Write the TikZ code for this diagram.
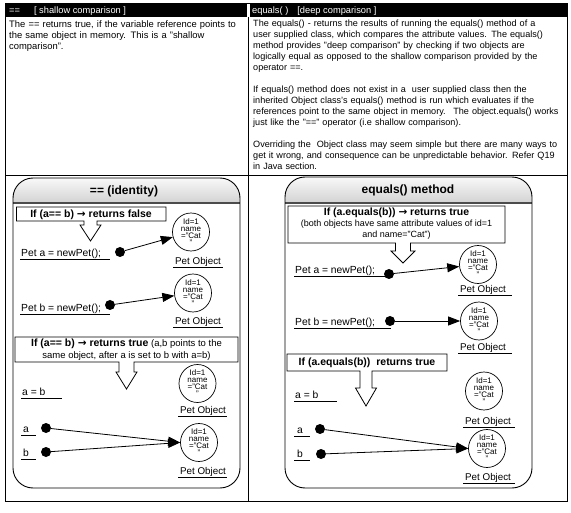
\documentclass[tikz,border=0pt]{standalone}
\usepackage{fontspec}
\setmainfont{Liberation Sans}
\newfontfamily\djv{DejaVu Sans}
\usetikzlibrary{arrows.meta,shapes.geometric}
\newcommand\jl[1]{\makebox[310pt][s]{#1}}
\newcommand\ra{{\djv\bfseries →}}
\newcommand\ul[3]{\draw[uline] ([xshift=#2pt,yshift=-2.5pt]#1.base west) -- ++(#3,0);}
\newcommand\callout[9]{\draw[cbox] (#1,#2) -- (#3,#2) -- (#3,#4) -- ({#5+#6},#4) -- ({#5+#6},#8) -- ({#5+#7},#8) -- (#5,#9) -- ({#5-#7},#8) -- ({#5-#6},#8) -- ({#5-#6},#4) -- (#1,#4) -- cycle;}
\begin{document}
\begin{tikzpicture}[x=1pt,y=-1pt,
  tline/.style={line width=0.8pt},
  hdr/.style={text=white, font=\fontsize{9.3}{11}\selectfont, inner sep=0pt, anchor=base west},
  body/.style={font=\fontsize{9.4}{11}\selectfont, inner sep=0pt, anchor=north west, align=left},
  rbody/.style={body, font=\fontsize{9.1}{11}\selectfont},
  ptitle/.style={font=\fontsize{12}{14}\selectfont\bfseries, inner sep=0pt},
  cbox/.style={draw=black, fill=white, line width=0.8pt, line join=miter},
  ctext/.style={font=\fontsize{10.5}{12}\selectfont\bfseries, inner sep=0pt},
  csmall/.style={font=\fontsize{9}{11}\selectfont, inner sep=0pt},
  lbl/.style={font=\fontsize{9.8}{11}\selectfont, inner sep=0pt, anchor=base west},
  code/.style={lbl, font=\fontsize{10.3}{11}\selectfont},
  uline/.style={line width=0.7pt},
  obj/.style={draw, ellipse, line width=0.7pt, minimum width=37pt, minimum height=38pt, inner sep=0pt, align=center, font=\fontsize{8}{7}\selectfont},
  dot/.style={circle, fill=black, minimum size=10pt, inner sep=0pt},
  conn/.style={line width=0.8pt, -{Triangle[length=12pt,width=9pt]}},
  panelline/.style={draw=black, line width=0.9pt, rounded corners=20pt},
  hline/.style={line width=1.2pt, gray!60!black},
]
\useasboundingbox (0,0) rectangle (571,513);
\fill[white] (0,0) rectangle (571,513);
% table
\fill[black] (5,3) rectangle (247,17);
\fill[black] (250,3) rectangle (567,17);
\draw[tline] (5,3) rectangle (567,501);
\draw[tline] (248,17) -- (248,501);
\draw[tline] (5,175) -- (567,175);
\node[hdr] (h1) at (9,13.5) {==\hspace{14pt}[ shallow comparison ]};
\node[hdr] (h2) at (252,13.5) {equals( )\hspace{9pt}[deep comparison ]};
\node[body, text width=236pt] (lt) at (9,20) {The == returns true, if the variable reference points to\\ the same object in memory. This is a "shallow\\ comparison".};
\node[rbody, text width=310pt] (rt) at (253,20) {\jl{The equals() - returns the results of running the equals() method of a}\\
\jl{user supplied class, which compares the attribute values. The equals()}\\
\jl{method provides "deep comparison" by checking if two objects are}\\
\jl{logically equal as opposed to the shallow comparison provided by the}\\
operator ==.\\[11pt]
\jl{If equals() method does not exist in a \ user supplied class then the}\\
\jl{inherited Object class's equals() method is run which evaluates if the}\\
\jl{references point to the same object in memory. \ The object.equals() works}\\
just like the "==" operator (i.e shallow comparison).\\[11pt]
\jl{Overriding the \ Object class may seem simple but there are many ways to}\\
\jl{get it wrong, and consequence can be unpredictable behavior. Refer Q19}\\
in Java section.};
% panels
\begin{scope}
\clip[rounded corners=20pt] (13,178) rectangle (240,488);
\shade[top color=gray!5, bottom color=gray!35] (13,178) rectangle (240,203);
\end{scope}
\draw[hline] (13,203) -- (240,203);
\draw[panelline] (13,178) rectangle (240,488);
\begin{scope}
\clip[rounded corners=20pt] (285,177) rectangle (532,488);
\shade[top color=gray!5, bottom color=gray!35] (285,177) rectangle (532,203);
\end{scope}
\draw[hline] (285,203) -- (532,203);
\draw[panelline] (285,177) rectangle (532,488);
\node[ptitle] (t1) at (124,191) {== (identity)};
\node[ptitle] (t2) at (408,190) {equals() method};
% callouts
\callout{16.5}{207}{166}{221}{90.5}{6.5}{10.5}{225}{241}
\callout{15}{337}{238}{362}{126.5}{7.5}{10.5}{372}{389}
\callout{288}{206}{505}{243}{403}{7.5}{12}{251}{263}
\callout{287}{354}{447}{371}{366}{6}{10.5}{388}{406}
\node[ctext] (c1t) at (91,214.5) {If (a== b) \ra\ returns false};
\node[font=\fontsize{9.5}{12}\selectfont, inner sep=0pt, align=center] (c2t) at (126.5,349.5) {{\fontsize{10.5}{12}\selectfont\bfseries If (a== b) \ra\ returns true} (a,b points to the\\ same object, after a is set to b with a=b)};
\node[ctext] (r1t) at (396.5,213) {If (a.equals(b)) \ra\ returns true};
\node[csmall, align=center] (r1s) at (396.5,229.5) {(both objects have same attribute values of id=1\\ and name="Cat")};
\node[ctext] (r2t) at (367,363) {If (a.equals(b))\ \ returns true};
% left panel objects
\node[obj] (lo1) at (191,232) {Id=1\\name\\="Cat\\"};
\node[obj] (lo2) at (193,293) {Id=1\\name\\="Cat\\"};
\node[obj] (lo3) at (197.5,383.5) {Id=1\\name\\="Cat\\"};
\node[obj] (lo4) at (199,442.5) {Id=1\\name\\="Cat\\"};
\node[code] (pa) at (21,256.5) {Pet a = newPet();} ; \ul{pa}{-1}{90}
\node[code] (pb) at (21,311.5) {Pet b = newPet();} ; \ul{pb}{-1}{90}
\node[lbl] (po1) at (175,264.5) {Pet Object}; \ul{po1}{-2}{50}
\node[lbl] (po2) at (175,324.5) {Pet Object}; \ul{po2}{-2}{50}
\node[code] (ab) at (22,395.5) {a = b}; \ul{ab}{-1}{41}
\node[code] (la) at (23,432.5) {a}; \ul{la}{-2}{15}
\node[code] (lb) at (23,456.5) {b}; \ul{lb}{-2}{15}
\node[lbl] (po3) at (180,413.5) {Pet Object}; \ul{po3}{-2}{49}
\node[lbl] (po4) at (180,474.5) {Pet Object}; \ul{po4}{-2}{49}
\node[dot] (da) at (120,252) {};
\node[dot] (db) at (110,305) {};
\node[dot] (dla) at (46,428) {};
\node[dot] (dlb) at (46,452) {};
\draw[conn] (da) -- (lo1);
\draw[conn] (db) -- (lo2);
\draw[conn] (dla) -- (lo4.west);
\draw[conn] (dlb) -- (lo4.west);
% right panel objects
\node[obj] (ro1) at (478,264.5) {Id=1\\name\\="Cat\\"};
\node[obj] (ro2) at (479,321) {Id=1\\name\\="Cat\\"};
\node[obj] (ro3) at (484,391) {Id=1\\name\\="Cat\\"};
\node[obj] (ro4) at (487,448.5) {Id=1\\name\\="Cat\\"};
\node[code] (rpa) at (295,273.5) {Pet a = newPet();}; \ul{rpa}{-1}{97}
\node[code] (rpb) at (295,325.5) {Pet b = newPet();}; \ul{rpb}{-1}{97}
\node[lbl] (rpo1) at (460,292.5) {Pet Object}; \ul{rpo1}{-2}{54}
\node[lbl] (rpo2) at (460,350.5) {Pet Object}; \ul{rpo2}{-2}{54}
\node[code] (rab) at (295,398.5) {a = b}; \ul{rab}{-1}{43}
\node[code] (rla) at (297,433.5) {a}; \ul{rla}{-3}{16}
\node[code] (rlb) at (297,457.5) {b}; \ul{rlb}{-3}{16}
\node[lbl] (rpo3) at (465,424.5) {Pet Object}; \ul{rpo3}{-2}{52}
\node[lbl] (rpo4) at (465,480.5) {Pet Object}; \ul{rpo4}{-2}{52}
\node[dot] (rda) at (389,274) {};
\node[dot] (rdb) at (390,321) {};
\node[dot] (rdla) at (320,429) {};
\node[dot] (rdlb) at (321,454) {};
\draw[conn] (rda) -- (ro1);
\draw[conn] (rdb) -- (ro2);
\draw[conn] (rdla) -- (ro4.west);
\draw[conn] (rdlb) -- (ro4.west);
\end{tikzpicture}
\end{document}
